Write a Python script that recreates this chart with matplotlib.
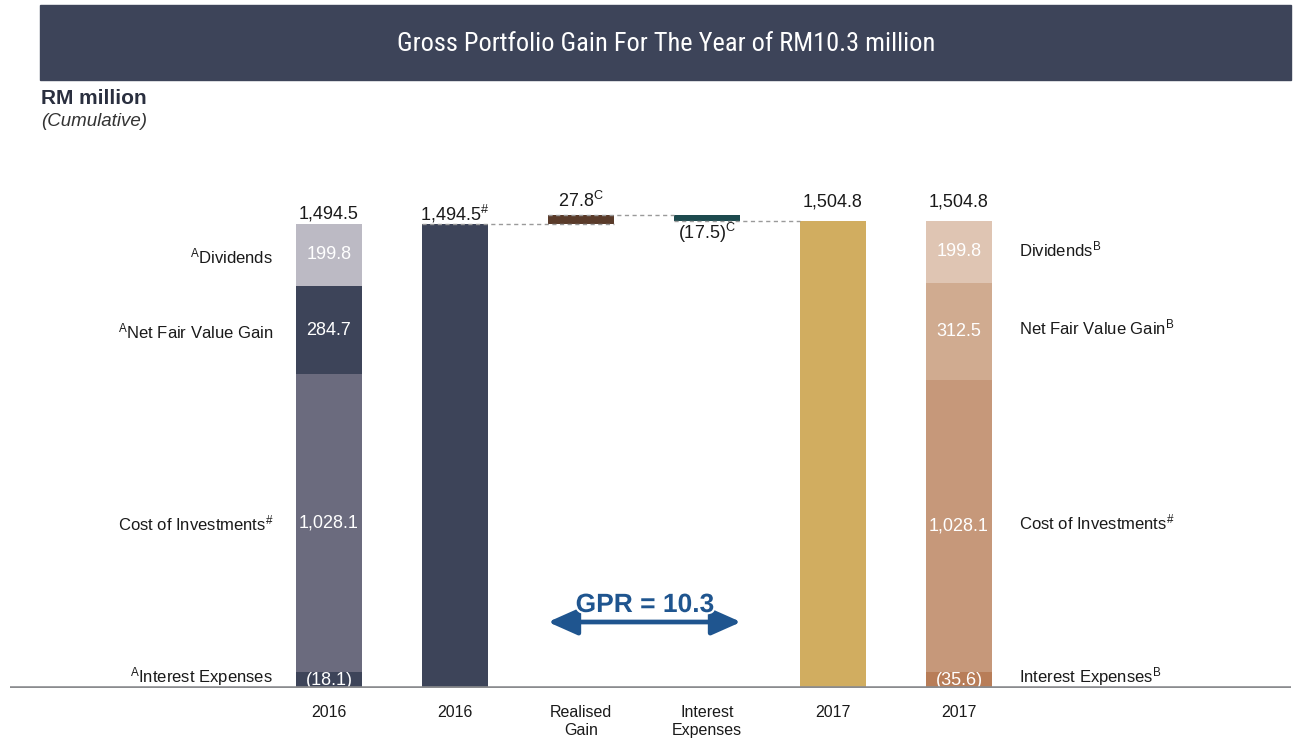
import matplotlib
matplotlib.use("Agg")
import matplotlib.pyplot as plt
import matplotlib.patheffects as pe
from matplotlib.patches import Rectangle
from matplotlib import font_manager as fm

plt.rcParams['font.family'] = ['Liberation Sans', 'DejaVu Sans']
plt.rcParams['mathtext.fontset'] = 'custom'
plt.rcParams['mathtext.rm'] = 'Liberation Sans'
plt.rcParams['mathtext.it'] = 'Liberation Sans:italic'
plt.rcParams['mathtext.bf'] = 'Liberation Sans:bold'

# ---------------- data ----------------
title = "Gross Portfolio Gain For The Year of RM10.3 million"
categories = ["2016", "2016", "Realised\nGain", "Interest\nExpenses", "2017", "2017"]

seg_names = ["Interest Expenses", "Cost of Investments", "Net Fair Value Gain", "Dividends"]
vals_2016 = [-18.1, 1028.1, 284.7, 199.8]
vals_2017 = [-35.6, 1028.1, 312.5, 199.8]
labels_2016 = ["(18.1)", "1,028.1", "284.7", "199.8"]
labels_2017 = ["(35.6)", "1,028.1", "312.5", "199.8"]
left_names = [r"$^{\mathrm{A}}$Interest Expenses", r"Cost of Investments$^{\#}$",
              r"$^{\mathrm{A}}$Net Fair Value Gain", r"$^{\mathrm{A}}$Dividends"]
right_names = [r"Interest Expenses$^{\mathrm{B}}$", r"Cost of Investments$^{\#}$",
               r"Net Fair Value Gain$^{\mathrm{B}}$", r"Dividends$^{\mathrm{B}}$"]

total_2016 = 1494.5
realised_gain = 27.8
interest_exp = -17.5
total_2017 = 1504.8
gpr = 10.3

# ---------------- styles ----------------
c_2016 = ["#3d4459", "#6b6b7e", "#3d4459", "#bcbac4"]
c_2017 = ["#b87d58", "#c6987a", "#d0ab90", "#dfc5b3"]
c_dark = "#3d4459"
c_gain = "#5a3b2a"
c_int = "#1d4a4e"
c_gold = "#d1ad60"
c_blue = "#1f558f"
txt = "#1a1a1a"
INT_BAND = 51.5   # display height of the interest-expense band
W = 0.524

# pick a condensed face for the title if one exists
names = {f.name for f in fm.fontManager.ttflist}
cond = None
for cand in ["Liberation Sans Narrow", "DejaVu Sans Condensed", "Roboto Condensed",
             "Open Sans Condensed", "Noto Sans Condensed"]:
    if cand in names:
        cond = cand
        break
cond_stretch = [f for f in fm.fontManager.ttflist
                if f.name in ("DejaVu Sans", "Noto Sans", "Open Sans", "Roboto")
                and f.stretch in ("condensed", "semi-condensed", "extra-condensed")]

W_PX, H_PX = 1297, 739
fig = plt.figure(figsize=(W_PX / 100, H_PX / 100), dpi=100)

# Title banner
fig.patches.append(Rectangle((40 / W_PX, 1 - 80 / H_PX), 1251 / W_PX, 75 / H_PX,
                             transform=fig.transFigure, color=c_dark, zorder=0))
if cond is not None:
    tkw = dict(family=[cond, 'DejaVu Sans'], fontsize=19)
elif cond_stretch:
    tkw = dict(fontproperties=fm.FontProperties(fname=cond_stretch[0].fname, size=19))
else:
    tkw = dict(family=['Liberation Sans', 'DejaVu Sans'], fontsize=17)
fig.text(666 / W_PX, 1 - 44 / H_PX, title, color="white",
         ha="center", va="center", **tkw)
fig.text(41 / W_PX, 1 - 98 / H_PX, "RM million", fontsize=15, fontweight="bold",
         color="#2a2f3f", ha="left", va="center")
fig.text(41 / W_PX, 1 - 121 / H_PX, "(Cumulative)", fontsize=13.5, style="italic",
         color="#333333", ha="left", va="center")

px_per_unit = 0.3105
ax = fig.add_axes([10 / W_PX, 51 / H_PX, 1281 / W_PX, 538 / H_PX])
ax.set_xlim((10 - 329) / 126, (1291 - 329) / 126)
ax.set_ylim(0, 538 / px_per_unit)
for s in ax.spines.values():
    s.set_visible(False)
ax.set_yticks([])
x = list(range(len(categories)))
ax.set_xticks(x)
ax.set_xticklabels(categories, fontsize=11.5, color=txt, linespacing=1.25)
ax.tick_params(axis="x", length=0, pad=12)


def stacked(xpos, vals, colors, labels):
    interest = vals[0]
    bottoms = [0, INT_BAND]
    cost_top = vals[1] + interest
    heights = [INT_BAND, cost_top - INT_BAND]
    b = cost_top
    for v in vals[2:]:
        bottoms.append(b)
        heights.append(v)
        b += v
    ax.bar([xpos] * 4, heights, bottom=bottoms, width=W, color=colors, zorder=2)
    for bt, h, lab in zip(bottoms, heights, labels):
        ax.text(xpos, bt + h / 2, lab, color="white", fontsize=13, ha="center",
                va="center", zorder=3)
    return bottoms, heights, b


b16, h16, top16 = stacked(0, vals_2016, c_2016, labels_2016)
b17, h17, top17 = stacked(5, vals_2017, c_2017, labels_2017)


def side_label(xpos, y, s, dy, ha):
    ax.annotate(s, (xpos, y), xytext=(0, dy), textcoords="offset pixels",
                ha=ha, va="center", fontsize=12, color=txt)


left_dy = [3, 0, -1, -1]
right_dy = [3, 3, 4, 2]
for bt, h, name, dy in zip(b16, h16, left_names, left_dy):
    side_label(-0.444, bt + h / 2, name, dy, "right")
for bt, h, name, dy in zip(b17, h17, right_names, right_dy):
    side_label(5.476, bt + h / 2, name, dy, "left")

# waterfall
ax.bar(1, total_2016, width=W, color=c_dark, zorder=2)
ax.bar(2, realised_gain, bottom=total_2016, width=W, color=c_gain, zorder=2)
peak = total_2016 + realised_gain
ax.bar(3, interest_exp, bottom=peak, width=W, color=c_int, zorder=2)
ax.bar(4, total_2017, width=W, color=c_gold, zorder=2)

dash = dict(color="#9a9a9a", lw=1, ls=(0, (3, 2.5)), zorder=3)
ax.plot([1 - W / 2, 2 + W / 2], [total_2016] * 2, **dash)
ax.plot([2 - W / 2, 3 - W / 2], [peak] * 2, **dash)
ax.plot([3 - W / 2, 4 - W / 2], [total_2017] * 2, **dash)


def top_label(xpos, y, s, dy):
    ax.annotate(s, (xpos, y), xytext=(0, dy), textcoords="offset pixels",
                ha="center", va="center", fontsize=13, color=txt)


top_label(0, top16, "1,494.5", 10)
top_label(1, total_2016, r"1,494.5$^{\#}$", 10)
top_label(2, peak, r"27.8$^{\mathrm{C}}$", 14)
top_label(3, peak + interest_exp, r"(17.5)$^{\mathrm{C}}$", -12)
top_label(4, total_2017, "1,504.8", 19)
top_label(5, top17, "1,504.8", 19)

# baseline
ax.axhline(0, color="#8a8b8e", lw=2.6, zorder=4)

# GPR arrow
ya = (688 - 622) / px_per_unit
ax.annotate("", xy=((741 - 329) / 126, ya), xytext=((548 - 329) / 126, ya),
            arrowprops=dict(arrowstyle="<|-|>,head_length=1.8,head_width=0.8",
                            color=c_blue, lw=3.4, shrinkA=0, shrinkB=0), zorder=5)
ax.text((645 - 329) / 126, (688 - 605) / px_per_unit, f"GPR = {gpr}", fontsize=19,
        fontweight="bold", color=c_blue, ha="center", va="center", zorder=6,
        path_effects=[pe.withStroke(linewidth=3, foreground="white")])

fig.savefig("out.png", dpi=100)
